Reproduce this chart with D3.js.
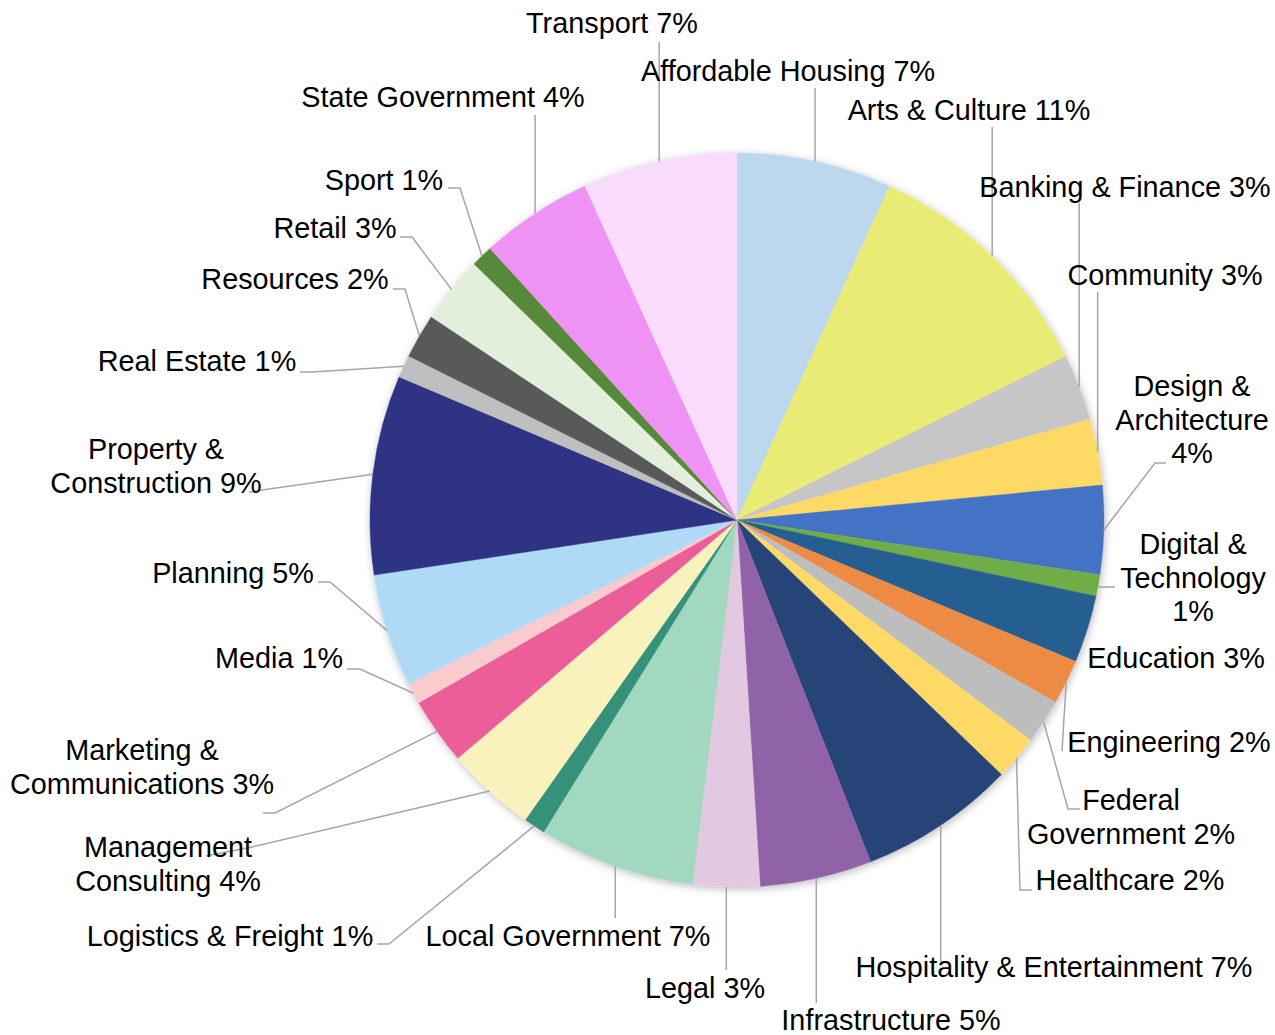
<!DOCTYPE html>
<html>
<head>
<meta charset="utf-8">
<script src="https://cdn.jsdelivr.net/npm/d3@7"></script>
<style>
  html, body { margin: 0; padding: 0; background: #ffffff; }
  svg { display: block; }
  text { font-family: "Liberation Sans", Arial, sans-serif; }
</style>
</head>
<body>
<svg id="chart" width="1275" height="1035"></svg>
<script>
// ---------- DATA ----------
const categories = [
  "Affordable Housing", "Arts & Culture", "Banking & Finance", "Community",
  "Design & Architecture", "Digital & Technology", "Education", "Engineering",
  "Federal Government", "Healthcare", "Hospitality & Entertainment", "Infrastructure",
  "Legal", "Local Government", "Logistics & Freight", "Management Consulting",
  "Marketing & Communications", "Media", "Planning", "Property & Construction",
  "Real Estate", "Resources", "Retail", "Sport", "State Government", "Transport"
];
// slice sizes (percent of the whole)
const values = [
  6.82, 10.83, 2.92, 2.91, 3.90, 0.95, 2.96, 1.98, 1.97, 1.95, 6.87, 4.93, 2.93,
  6.90, 0.96, 3.96, 2.95, 0.94, 4.96, 8.77, 1.00, 1.96, 2.95, 0.97, 4.94, 6.80
];
// percentages as printed on the labels
const percentLabels = [
  "7%", "11%", "3%", "3%", "4%", "1%", "3%", "2%", "2%", "2%", "7%", "5%", "3%",
  "7%", "1%", "4%", "3%", "1%", "5%", "9%", "1%", "2%", "3%", "1%", "4%", "7%"
];

// ---------- STYLE ----------
const colors = [
  "#BDD7EE", "#E8EB74", "#C6C6C6", "#FFD966", "#4472C4", "#70AD47", "#255E91", "#ED8B45",
  "#BDBDBD", "#FFD966", "#264478", "#9062A8", "#E2C8E1", "#A2D7C0", "#359179", "#FAF2BD",
  "#EC5E9A", "#F9CBCD", "#AEDAF5", "#2E3384", "#BFBFBF", "#595959", "#E2EFDA", "#568A3A",
  "#EE93F3", "#F9DCFB"
];

// ---------- LAYOUT ----------
const cx = 737, cy = 520, radius = 367;
const fontSize = 28.8, lineHeight = 33.5;
// label layout: x = text centre, y = baseline of the first line, wrap = words per line,
// lead = leader line: {v: y} vertical line at slice x, or {pts: [...]} elbow points
const labelLayout = [
  {x: 788,  y: 81,  wrap: null,    lead: {v: 88}},
  {x: 969,  y: 120, wrap: null,    lead: {v: 127}},
  {x: 1125, y: 197, wrap: null,    lead: {v: 203}},
  {x: 1165, y: 285, wrap: null,    lead: {v: 292}},
  {x: 1192, y: 396, wrap: [2,1,1], lead: {pts: [[1166,463],[1155,463]]}},
  {x: 1193, y: 554, wrap: [2,1,1], lead: {pts: [[1115,587],[1100,587]]}},
  {x: 1176, y: 668, wrap: null,    lead: null},
  {x: 1169, y: 752, wrap: null,    lead: {pts: [[1062,751]]}},
  {x: 1131, y: 810, wrap: [1,2],   lead: {pts: [[1080,809],[1068,809]]}},
  {x: 1130, y: 890, wrap: null,    lead: {pts: [[1032,890],[1020,890]]}},
  {x: 1054, y: 977, wrap: null,    lead: {v: 962}},
  {x: 891,  y: 1030,wrap: null,    lead: {v: 1003}},
  {x: 705,  y: 998, wrap: null,    lead: {v: 970}},
  {x: 568,  y: 946, wrap: null,    lead: {v: 918}},
  {x: 230,  y: 946, wrap: null,    lead: {pts: [[377,944],[389,944]]}},
  {x: 168,  y: 857, wrap: [1,2],   lead: {pts: [[206,856],[252,847]]}},
  {x: 142,  y: 760, wrap: [2,2],   lead: {pts: [[263,813],[275,813]]}},
  {x: 279,  y: 668, wrap: null,    lead: {pts: [[347,669],[360,669]]}},
  {x: 233,  y: 583, wrap: null,    lead: {pts: [[318,582],[330,582]]}},
  {x: 156,  y: 459, wrap: [2,2],   lead: {pts: [[249,492],[262,490]]}},
  {x: 197,  y: 371, wrap: null,    lead: {pts: [[300,372],[312,372]]}},
  {x: 295,  y: 289, wrap: null,    lead: {pts: [[393,289],[405,289]]}},
  {x: 335,  y: 238, wrap: null,    lead: {pts: [[400,237],[412,237]]}},
  {x: 384,  y: 190, wrap: null,    lead: {pts: [[448,188],[460,188]]}},
  {x: 443,  y: 107, wrap: null,    lead: {v: 115}},
  {x: 612,  y: 33,  wrap: null,    lead: {v: 42}}
];

// ---------- DRAW ----------
const svg = d3.select("#chart");

const defs = svg.append("defs");
const filt = defs.append("filter").attr("id", "shadow")
  .attr("x", "-10%").attr("y", "-10%").attr("width", "120%").attr("height", "120%");
filt.append("feDropShadow").attr("dx", 1).attr("dy", 2).attr("stdDeviation", 4)
  .attr("flood-color", "#000").attr("flood-opacity", 0.28);

const rows = categories.map((c, i) => ({cat: c, value: values[i], pct: percentLabels[i], color: colors[i], layout: labelLayout[i]}));

const pie = d3.pie().sort(null).value(d => d.value);
const arcs = pie(rows);
const arc = d3.arc().innerRadius(0).outerRadius(radius);

const g = svg.append("g").attr("transform", `translate(${cx},${cy})`);

// shadow disc
g.append("circle").attr("r", radius).attr("fill", "#fff").attr("filter", "url(#shadow)");

g.selectAll("path.slice").data(arcs).join("path")
  .attr("class", "slice")
  .attr("d", arc)
  .attr("fill", d => d.data.color)
  .attr("stroke", d => d.data.color)
  .attr("stroke-width", 0.5);

// leader lines
function edgePoint(d) {
  const a = (d.startAngle + d.endAngle) / 2;
  return [cx + radius * Math.sin(a), cy - radius * Math.cos(a)];
}
const leaderG = svg.append("g");
arcs.forEach(d => {
  const L = d.data.layout.lead;
  if (!L) return;
  const e = edgePoint(d);
  let pts;
  if (L.v !== undefined) pts = [[e[0], L.v], e];
  else pts = L.pts.concat([e]);
  leaderG.append("path")
    .attr("d", d3.line()(pts))
    .attr("fill", "none")
    .attr("stroke", "#A6A6A6")
    .attr("stroke-width", 1.5);
});

// labels
const labelG = svg.append("g");
arcs.forEach(d => {
  const lay = d.data.layout;
  const words = (d.data.cat + " " + d.data.pct).split(" ");
  let lines;
  if (lay.wrap) {
    lines = []; let k = 0;
    lay.wrap.forEach(n => { lines.push(words.slice(k, k + n).join(" ")); k += n; });
  } else lines = [words.join(" ")];
  const t = labelG.append("text")
    .attr("x", lay.x).attr("y", lay.y)
    .attr("text-anchor", "middle")
    .attr("font-size", fontSize)
    .attr("fill", "#000");
  lines.forEach((ln, j) => {
    t.append("tspan").attr("x", lay.x).attr("y", lay.y + j * lineHeight).text(ln);
  });
});
</script>
</body>
</html>
